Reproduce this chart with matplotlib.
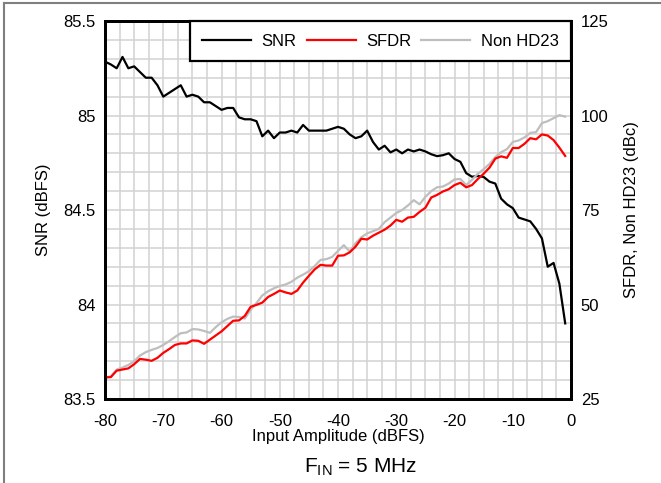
import numpy as np
import matplotlib
matplotlib.use("Agg")
import matplotlib.pyplot as plt
from matplotlib.lines import Line2D
from matplotlib.ticker import MultipleLocator, FuncFormatter

plt.rcParams['font.family'] = ['Liberation Sans', 'DejaVu Sans']
plt.rcParams['mathtext.fontset'] = 'custom'
plt.rcParams['mathtext.rm'] = 'Liberation Sans'
plt.rcParams['mathtext.it'] = 'Liberation Sans'
plt.rcParams['axes.unicode_minus'] = False

# input amplitude (dBFS)
amp = np.arange(-80, 0)

snr = [85.285, 85.27, 85.25, 85.31, 85.25, 85.26, 85.23, 85.20, 85.20, 85.16,
       85.10, 85.12, 85.14, 85.16, 85.10, 85.11, 85.10, 85.07, 85.07, 85.05,
       85.03, 85.04, 85.04, 84.99, 84.98, 84.98, 84.97, 84.89, 84.92, 84.88,
       84.91, 84.91, 84.92, 84.91, 84.95, 84.92, 84.92, 84.92, 84.92, 84.93,
       84.94, 84.93, 84.90, 84.88, 84.89, 84.92, 84.86, 84.82, 84.84, 84.805,
       84.82, 84.80, 84.82, 84.81, 84.82, 84.81, 84.795, 84.785, 84.79, 84.80,
       84.77, 84.755, 84.695, 84.676, 84.68, 84.675, 84.65, 84.64, 84.56, 84.53,
       84.51, 84.46, 84.45, 84.44, 84.40, 84.35, 84.20, 84.22, 84.11, 83.90]

sfdr = [30.7, 30.8, 32.5, 32.8, 33.1, 34.2, 35.6, 35.4, 35.1, 35.9,
        37.2, 38.2, 39.3, 39.7, 39.7, 40.5, 40.4, 39.6, 40.7, 41.8,
        42.9, 44.3, 45.7, 45.8, 47.0, 49.4, 49.9, 50.5, 52.0, 52.8,
        53.7, 53.2, 52.8, 53.7, 55.8, 57.6, 59.3, 60.5, 60.3, 60.3,
        62.9, 63.0, 63.8, 65.3, 67.4, 67.2, 68.2, 69.0, 69.8, 70.9,
        72.4, 71.9, 73.0, 73.2, 74.5, 75.6, 78.3, 79.0, 79.9, 80.5,
        81.6, 82.2, 81.0, 81.6, 83.2, 84.6, 86.2, 88.6, 89.2, 88.8,
        91.4, 91.4, 92.5, 94.0, 93.7, 95.0, 94.7, 93.5, 91.5, 89.3]

non_hd23 = [30.7, 31.0, 32.8, 33.3, 34.0, 35.0, 36.5, 37.4, 38.0, 38.5,
            39.3, 40.3, 41.4, 42.4, 42.6, 43.5, 43.4, 43.0, 42.5, 44.0,
            45.3, 46.2, 46.8, 46.7, 46.3, 48.6, 50.4, 52.4, 53.5, 54.3,
            54.9, 55.3, 56.0, 57.1, 57.9, 58.8, 60.2, 61.8, 62.0, 62.6,
            64.2, 65.7, 64.0, 66.2, 67.8, 68.8, 69.4, 70.0, 71.8, 73.0,
            74.2, 75.0, 76.2, 77.6, 76.5, 78.5, 80.0, 81.0, 81.2, 82.0,
            83.1, 83.2, 81.6, 83.0, 84.6, 85.8, 87.2, 89.0, 90.3, 91.1,
            93.0, 93.4, 94.2, 95.4, 95.6, 98.0, 98.5, 99.3, 100.1, 99.7]

fig = plt.figure(figsize=(6.61, 4.83), dpi=100)
ax = fig.add_axes([0.1589, 0.1739, 0.7050, 0.7826])
ax2 = ax.twinx()

l_snr, = ax.plot(amp, snr, color='black', lw=1.6, label='SNR')
l_nhd, = ax2.plot(amp, non_hd23, color='#bebebe', lw=1.6, label='Non HD23')
l_sfdr, = ax2.plot(amp, sfdr, color='#ff0000', lw=1.6, label='SFDR')

ax.set_xlim(-80, 0)
ax.set_ylim(83.5, 85.5)
ax2.set_ylim(25, 125)

ax.xaxis.set_major_locator(MultipleLocator(10))
ax.xaxis.set_minor_locator(MultipleLocator(2.5))
ax.yaxis.set_major_locator(MultipleLocator(0.5))
ax.yaxis.set_minor_locator(MultipleLocator(0.1))
ax.yaxis.set_major_formatter(FuncFormatter(lambda v, p: f'{v:g}'))
ax2.yaxis.set_major_locator(MultipleLocator(25))
ax.grid(True, which='both', color='#d2d2d2', lw=1.1)
ax.set_axisbelow(True)

ax.tick_params(axis='both', which='both', length=0, labelsize=12)
ax.tick_params(axis='y', pad=7)
ax.tick_params(axis='x', pad=11)
ax2.tick_params(axis='both', which='both', length=0, labelsize=12, pad=7)

for a in (ax, ax2):
    for s in a.spines.values():
        s.set_linewidth(2)
        s.set_color('black')

ax.set_ylabel('SNR (dBFS)', fontsize=12)
ax.yaxis.set_label_coords(-0.133, 0.5)
ax.yaxis.label.set_verticalalignment('center')
ax2.set_ylabel('SFDR, Non HD23 (dBc)', fontsize=12)
ax2.yaxis.set_label_coords(1.129, 0.5)
ax2.yaxis.label.set_verticalalignment('center')
ax.set_xlabel('Input Amplitude (dBFS)', fontsize=12)
ax.xaxis.set_label_coords(0.5, -0.098)
ax.xaxis.label.set_verticalalignment('center')

handles = [l_snr, l_sfdr, l_nhd]
leg = ax2.legend(handles, [h.get_label() for h in handles], ncol=3,
                 loc='upper right', bbox_to_anchor=(1, 1),
                 borderaxespad=0, fancybox=False, framealpha=1,
                 fontsize=12, handlelength=2.95, columnspacing=0.6,
                 handletextpad=0.62, borderpad=0.75)
leg.get_frame().set_edgecolor('black')
leg.get_frame().set_linewidth(1.6)

fig.text(361 / 661, 1 - 467 / 483, r'F$_{\mathrm{IN}}$ = 5 MHz', fontsize=15,
         ha='center', va='center')

# outer frame (partial border of the original page)
fig.add_artist(Line2D([0.006, 1.0], [0.9948, 0.9948], color='#7f7f7f', lw=1.5))
fig.add_artist(Line2D([0.006, 0.006], [0.0, 0.9948], color='#7f7f7f', lw=1.5))

fig.savefig('out.png', dpi=100)
